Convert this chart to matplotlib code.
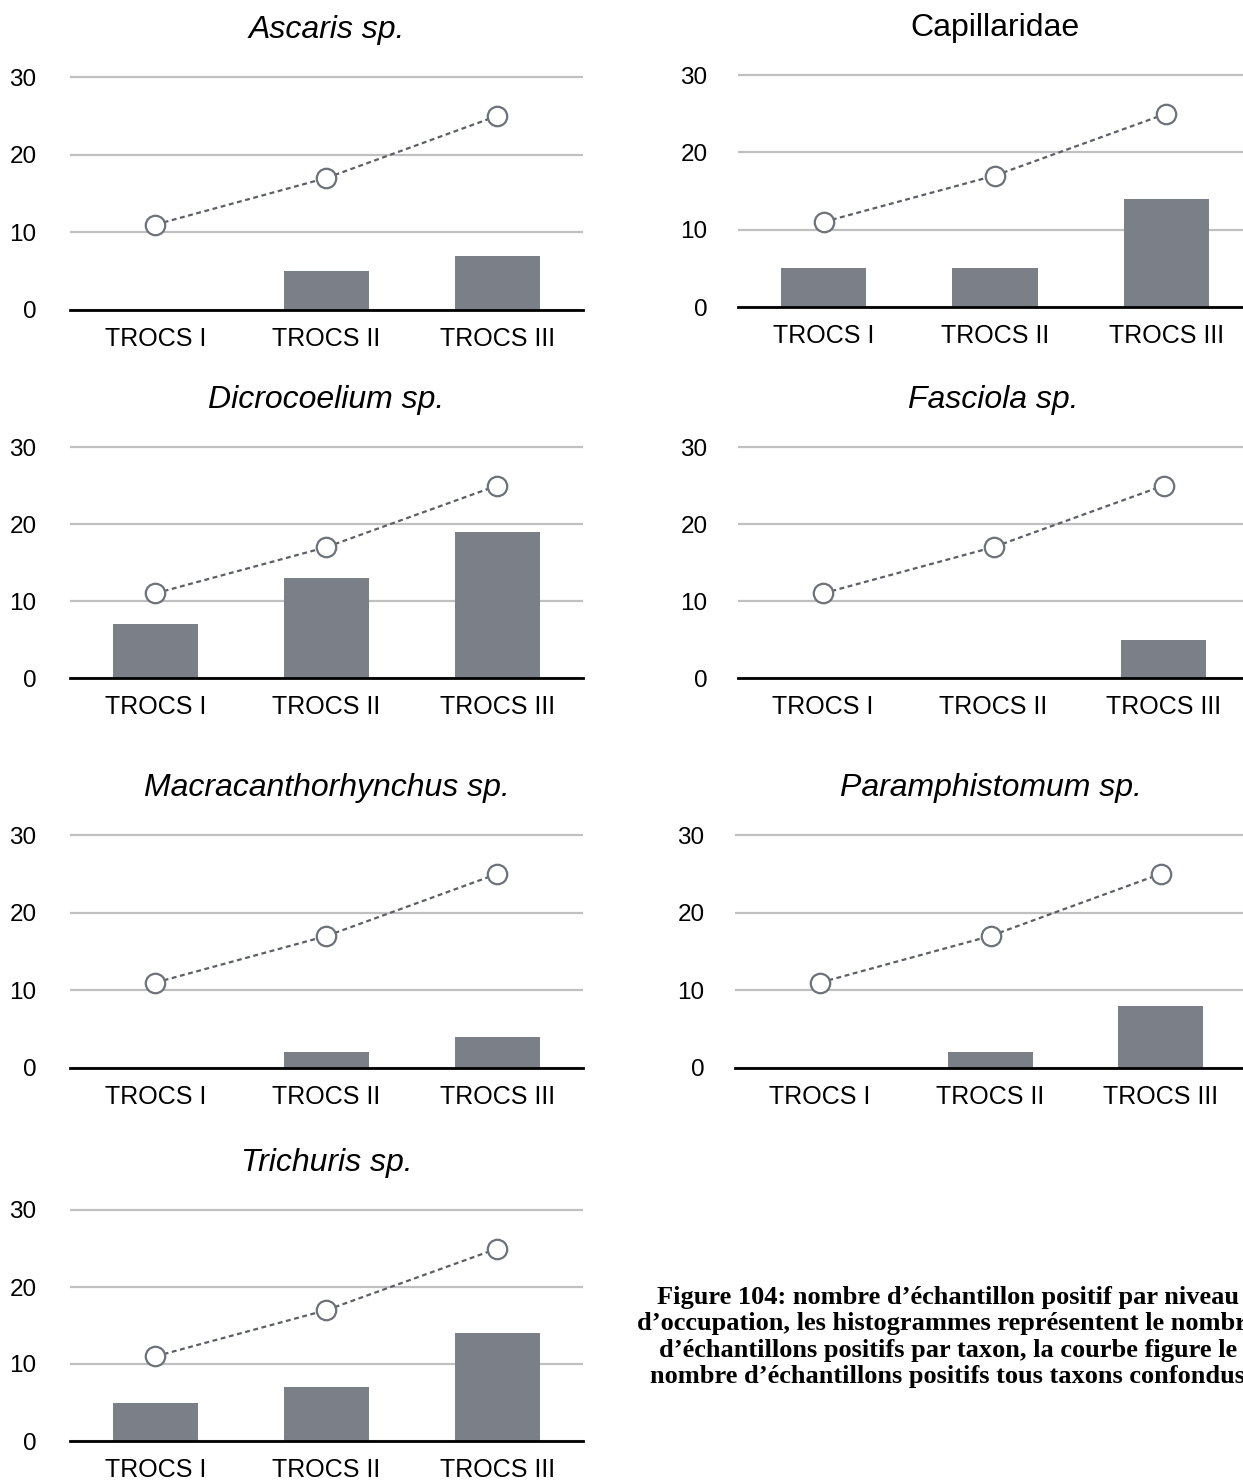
import matplotlib
matplotlib.use('Agg')
import matplotlib.pyplot as plt

# données
categories = ['TROCS I', 'TROCS II', 'TROCS III']
total = [11, 17, 25]  # tous taxons confondus
taxa = ['Ascaris sp.', 'Capillaridae', 'Dicrocoelium sp.', 'Fasciola sp.',
        'Macracanthorhynchus sp.', 'Paramphistomum sp.', 'Trichuris sp.']
italic = [True, False, True, True, True, True, True]
ascaris = [0, 5, 7]
capillaridae = [5, 5, 14]
dicrocoelium = [7, 13, 19]
fasciola = [0, 0, 5]
macracanthorhynchus = [0, 2, 4]
paramphistomum = [0, 2, 8]
trichuris = [5, 7, 14]
counts = [ascaris, capillaridae, dicrocoelium, fasciola,
          macracanthorhynchus, paramphistomum, trichuris]
yticks = [0, 10, 20, 30]

caption = ("Figure 104: nombre d\u2019échantillon positif par niveau\n"
           "d\u2019occupation, les histogrammes représentent le nombre\n"
           "d\u2019échantillons positifs par taxon, la courbe figure le\n"
           "nombre d\u2019échantillons positifs tous taxons confondus")

W, H = 1243, 1481
fig = plt.figure(figsize=(W / 100, H / 100), dpi=100)
plt.rcParams['font.family'] = ['Liberation Sans', 'DejaVu Sans']

# (gauche, droite, y du zéro, y de 30) en pixels
boxes = [(70, 583, 310, 77), (738, 1252, 307, 75),
         (70, 583, 678, 447), (738, 1249, 678, 447),
         (70, 583, 1068, 835), (735, 1246, 1068, 835),
         (70, 583, 1441, 1210)]
ytop = 32

for i, (name, vals) in enumerate(zip(taxa, counts)):
    x0, x1, yb, y30 = boxes[i]
    unit = (yb - y30) / 30.
    top = yb - ytop * unit
    ax = fig.add_axes([x0 / W, 1 - yb / H, (x1 - x0) / W, (yb - top) / H])
    ax.bar(range(3), vals, width=0.5, color='#7a7f88', zorder=2)
    ax.plot(range(3), total, linestyle=(0, (2.2, 1.6)), lw=1.6, color='#5c5f66',
            marker='o', ms=14, mfc='white', mec='#6d7179', mew=1.6, zorder=3,
            clip_on=False)
    ax.set_xlim(-0.5, 2.5)
    ax.set_ylim(0, ytop)
    ax.set_yticks(yticks)
    ax.set_xticks(range(3), categories)
    ax.grid(axis='y', color='#c0c0c0', lw=1.6, zorder=0)
    ax.set_axisbelow(True)
    for s in ['top', 'right', 'left']:
        ax.spines[s].set_visible(False)
    ax.spines['bottom'].set_linewidth(2)
    ax.spines['bottom'].set_color('black')
    ax.spines['bottom'].set_zorder(4)
    ax.tick_params(axis='y', length=0, pad=24 if x0 < 600 else 22, labelsize=17.5)
    ax.tick_params(axis='x', length=0, pad=12, labelsize=18)
    fig.text((x0 + x1) / 2 / W, 1 - (y30 - 47) / H, name, ha='center', va='center',
             fontsize=23, style='italic' if italic[i] else 'normal')

fig.text(948 / W, 1 - 1337 / H, caption, ha='center', va='center',
         family='Liberation Serif', fontweight='bold', fontsize=19,
         linespacing=1.2)

fig.savefig('out.png', dpi=100)
